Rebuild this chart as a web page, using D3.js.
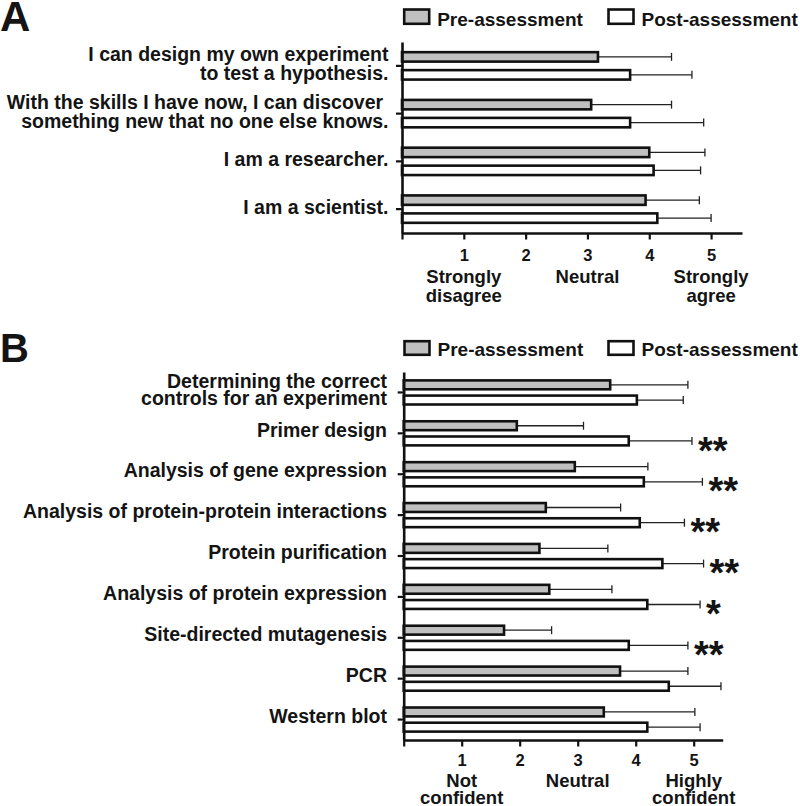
<!DOCTYPE html>
<html><head><meta charset="utf-8">
<script src="https://cdn.jsdelivr.net/npm/d3@7"></script>
<style>
body{margin:0;background:#fff}
text{font-family:"Liberation Sans",Arial,Helvetica,sans-serif;font-weight:bold;fill:#141414}
</style>
</head><body><svg id="chart" width="800" height="806"></svg>
<script>
// ---------- DATA ----------
const seriesNames = ["Pre-assessment", "Post-assessment"];
const tickValues = [1, 2, 3, 4, 5];

const categoriesA = [
  "I can design my own experiment\nto test a hypothesis.",
  "With the skills I have now, I can discover\u00a0\nsomething new that no one else knows.",
  "I am a researcher.",
  "I am a scientist."
];
const preMeanA  = [3.17, 3.06, 4.00, 3.94];
const preSdA    = [1.19, 1.30, 0.90, 0.87];
const postMeanA = [3.69, 3.69, 4.07, 4.13];
const postSdA   = [1.00, 1.19, 0.76, 0.87];
const significanceA = ["", "", "", ""];
const scaleLabelsA = ["Strongly\ndisagree", "Neutral", "Strongly\nagree"];
const scaleLabelPos = [1, 3, 5];

const categoriesB = [
  "Determining the correct\ncontrols for an experiment",
  "Primer design",
  "Analysis of gene expression",
  "Analysis of protein-protein interactions",
  "Protein purification",
  "Analysis of protein expression",
  "Site-directed mutagenesis",
  "PCR",
  "Western blot"
];
const preMeanB  = [3.56, 1.95, 2.95, 2.45, 2.34, 2.51, 1.73, 3.73, 3.45];
const preSdB    = [1.34, 1.15, 1.26, 1.29, 1.18, 1.08, 0.82, 1.17, 1.57];
const postMeanB = [4.02, 3.88, 4.14, 4.07, 4.46, 4.20, 3.88, 4.57, 4.20];
const postSdB   = [0.80, 1.09, 1.01, 0.77, 0.71, 0.91, 1.02, 0.90, 0.91];
const significanceB = ["", "**", "**", "**", "**", "*", "**", "", ""];
const scaleLabelsB = ["Not\nconfident", "Neutral", "Highly\nconfident"];

// ---------- DRAW ----------
const svg = d3.select("#chart");
const fillColors = {"Pre-assessment": "#c0c0c0", "Post-assessment": "#ffffff"};
const SW = 2.6;

function drawPanel(cfg) {
  const g = svg.append("g");
  const x = d3.scaleLinear().domain([0, 5.5]).range(cfg.xRange);
  const y = d3.scaleBand().domain(cfg.categories).range(cfg.yRange).paddingInner(0).paddingOuter(0);
  const inner = d3.scaleBand().domain(seriesNames).range([0, cfg.pairSpan]).paddingInner(cfg.innerPad);
  const axisY = cfg.yRange[1];

  // panel letter
  g.append("text").attr("x", cfg.letterX).attr("y", cfg.letterY)
    .style("font-size", cfg.letterSize + "px").text(cfg.letter);

  // legend
  const leg = g.selectAll("g.leg").data(seriesNames).join("g").attr("class", "leg");
  leg.append("rect")
    .attr("x", (d, i) => cfg.legendX[i]).attr("y", cfg.legendTop)
    .attr("width", 25).attr("height", cfg.legendBoxH)
    .attr("fill", d => fillColors[d]).attr("stroke", "#111").attr("stroke-width", SW);
  leg.append("text")
    .attr("x", (d, i) => cfg.legendX[i] + 33).attr("y", cfg.legendTop + cfg.legendTextDy)
    .style("font-size", "19px").text(d => d);

  // rows
  const rows = cfg.categories.map((c, i) => ({
    cat: c,
    bars: [
      {s: seriesNames[0], v: cfg.pre[i], sd: cfg.preSd[i], sig: ""},
      {s: seriesNames[1], v: cfg.post[i], sd: cfg.postSd[i], sig: cfg.sig[i]}
    ]
  }));
  const rowG = g.selectAll("g.row").data(rows).join("g").attr("class", "row")
    .attr("transform", d => `translate(0,${y(d.cat) + (y.bandwidth() - cfg.pairSpan) / 2})`);
  const bar = rowG.selectAll("g.bar").data(d => d.bars).join("g").attr("class", "bar");
  const bw = inner.bandwidth();
  // error bars
  bar.append("line")
    .attr("x1", d => x(d.v)).attr("x2", d => x(d.v + d.sd))
    .attr("y1", d => inner(d.s) + bw / 2).attr("y2", d => inner(d.s) + bw / 2)
    .attr("stroke", "#222").attr("stroke-width", 1.3);
  bar.append("line")
    .attr("x1", d => x(d.v + d.sd)).attr("x2", d => x(d.v + d.sd))
    .attr("y1", d => inner(d.s) + bw / 2 - 4).attr("y2", d => inner(d.s) + bw / 2 + 4)
    .attr("stroke", "#222").attr("stroke-width", 1.3);
  bar.append("rect")
    .attr("x", x(0)).attr("width", d => x(d.v) - x(0))
    .attr("y", d => inner(d.s) + SW / 2).attr("height", bw - SW)
    .attr("fill", d => fillColors[d.s]).attr("stroke", "#111").attr("stroke-width", SW);
  bar.filter(d => d.sig).append("text")
    .attr("x", d => x(d.v + d.sd) + 6)
    .attr("y", d => inner(d.s) + bw / 2 + 1 + 0.57 * 38)
    .style("font-size", "38px").text(d => d.sig);

  // y axis
  const ya = g.append("g").attr("transform", `translate(${x(0)},0)`)
    .call(d3.axisLeft(y).tickSize(6).tickSizeOuter(0).tickFormat(""));
  ya.select(".domain").attr("stroke", "#111").attr("stroke-width", SW);
  ya.selectAll(".tick line").attr("stroke", "#111").attr("stroke-width", 2.2);

  // category labels
  const lab = g.selectAll("text.cat").data(cfg.categories).join("text").attr("class", "cat")
    .attr("text-anchor", "end").style("font-size", "19.5px").style("white-space", "pre");
  lab.each(function(d) {
    const lines = d.split("\n");
    const n = lines.length;
    const cy = y(d) + y.bandwidth() / 2;
    d3.select(this).selectAll("tspan").data(lines).join("tspan")
      .attr("x", cfg.labelX)
      .attr("y", (l, i) => cy + cfg.labelDy + (n > 1 ? cfg.multiDy : 0) + (i - (n - 1) / 2) * cfg.labelLH)
      .text(l => l);
  });

  // x axis
  const xa = g.append("g").attr("transform", `translate(0,${axisY})`)
    .call(d3.axisBottom(x).tickValues([0].concat(tickValues)).tickSize(6.5).tickSizeOuter(0)
      .tickFormat(d => d === 0 ? "" : d));
  xa.select(".domain").attr("stroke", "#111").attr("stroke-width", SW);
  xa.selectAll(".tick line").attr("stroke", "#111").attr("stroke-width", 2.2);
  xa.selectAll(".tick text").attr("y", cfg.numY).attr("dy", null).style("font-size", "16.5px");

  // scale description labels
  const desc = g.selectAll("text.desc").data(cfg.scaleLabels).join("text").attr("class", "desc")
    .attr("text-anchor", "middle").style("font-size", "18.5px");
  desc.each(function(d, j) {
    const lines = d.split("\n");
    d3.select(this).selectAll("tspan").data(lines).join("tspan")
      .attr("x", x(scaleLabelPos[j]))
      .attr("y", (l, i) => axisY + cfg.descY + i * cfg.descLH)
      .text(l => l);
  });
}

drawPanel({
  letter: "A", letterX: 0, letterY: 31, letterSize: 42,
  legendX: [404.2, 608.5], legendTop: 9.5, legendBoxH: 14.3, legendTextDy: 16,
  categories: categoriesA, pre: preMeanA, preSd: preSdA, post: postMeanA, postSd: postSdA, sig: significanceA,
  scaleLabels: scaleLabelsA,
  xRange: [402, 742], yRange: [42, 233], pairSpan: 30, innerPad: 0.33,
  labelX: 388.5, labelLH: 18.8, labelDy: 4.7, multiDy: 0,
  numY: 27.7, descY: 50.3, descLH: 18.3
});

drawPanel({
  letter: "B", letterX: 0, letterY: 361.7, letterSize: 40,
  legendX: [404.5, 608.5], legendTop: 341.2, legendBoxH: 13.6, legendTextDy: 14.5,
  categories: categoriesB, pre: preMeanB, preSd: preSdB, post: postMeanB, postSd: postSdB, sig: significanceB,
  scaleLabels: scaleLabelsB,
  xRange: [403.7, 722.7], yRange: [372, 740], pairSpan: 26.7, innerPad: 0.243,
  labelX: 387, labelLH: 16.5, labelDy: 3.2, multiDy: 1,
  numY: 26, descY: 46.8, descLH: 17.5
});
</script>
</body></html>
